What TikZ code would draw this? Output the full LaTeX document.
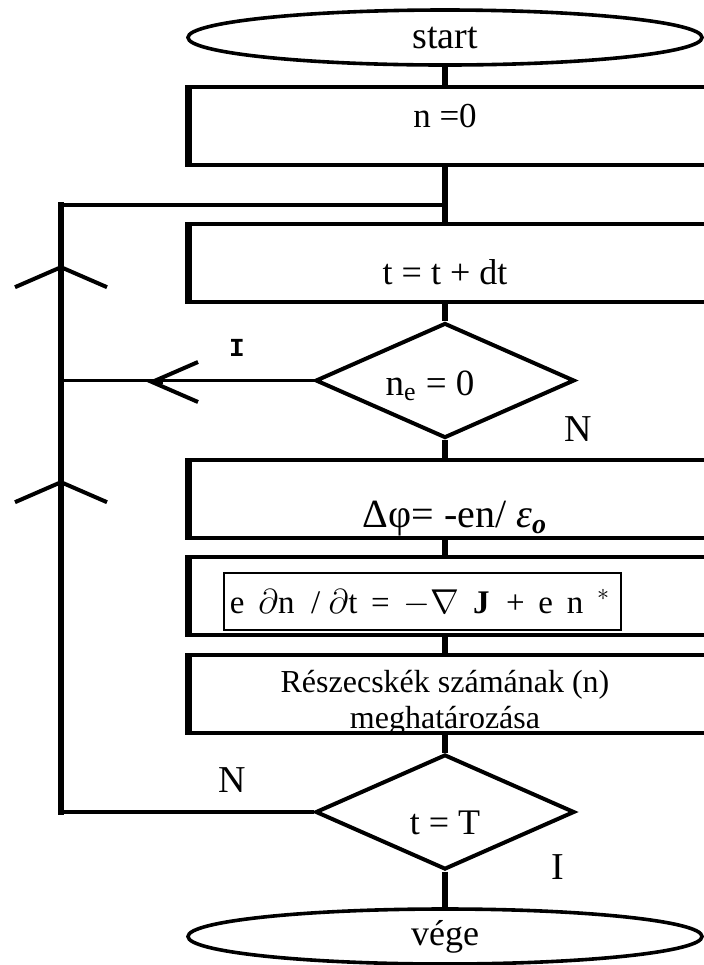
\documentclass[tikz,border=0pt]{standalone}
\usepackage{fontspec}
\setmainfont{Liberation Serif}
\newfontfamily\monofont{Liberation Mono}
\usetikzlibrary{shapes.geometric,arrows.meta}

\begin{document}
\begin{tikzpicture}[x=0.5pt,y=-0.5pt,
  term/.style={ellipse,draw,line width=1.8pt,minimum width=257pt,minimum height=27.5pt,inner sep=0pt},
  box/.style={draw,line width=1.8pt,minimum width=260pt,minimum height=39pt,inner sep=0pt,
    append after command={(\tikzlastnode.north west) edge[line width=3.2pt] (\tikzlastnode.south west)}},
  test/.style={diamond,draw,line width=2pt,minimum width=129.5pt,minimum height=57.5pt,inner sep=0pt},
  txt/.style={anchor=base,inner sep=0pt},
  lbl/.style={anchor=base,inner sep=0pt,font=\fontsize{19}{22}\selectfont},
  flow/.style={line width=3pt},
  back/.style={line width=1.6pt},
  rail/.style={line width=3pt,line cap=rect},
  barbup/.style={line width=3pt,-{Straight Barb[length=10pt,width=46pt,line width=2pt]}},
  barbleft/.style={line width=1.6pt,-{Straight Barb[length=23pt,width=20pt,line width=2pt]}}]
\useasboundingbox (0,0) rectangle (703,965);

% main column
\node[term,font=\fontsize{19}{22}\selectfont] (start) at (445,37.5) {start};
\node[box] (b1) at (450,126) {};
\node[txt,font=\fontsize{17.5}{20}\selectfont] (b1t) at (445,127) {n =0};
\node[box] (b2) at (450,263) {};
\node[txt,font=\fontsize{18}{21}\selectfont] (b2t) at (445,284) {t = t + dt};
\node[test] (d1) at (445,380.5) {};
\node[txt,font=\fontsize{18.5}{22}\selectfont] (d1t) at (430,395) {n\textsubscript{e} = 0};
\node[box] (b3) at (450,499) {};
\node[txt,font=\fontsize{20}{23}\selectfont] (b3t) at (455,527)
  {Δφ= -en/ \textit{ε}\textsubscript{\textbf{\textit{o}}}};
\node[box] (b4) at (450,596) {};
\node[draw,line width=0.6pt,minimum width=198.5pt,minimum height=28.5pt,inner sep=0pt] (eqbox) at (422.5,601.5) {};
\node[txt,font=\fontsize{16.5}{20}\selectfont] (eqt) at (420,613)
  {e \,$\partial$n \ / $\partial$t \,= \,$-\nabla$ \,\textbf{J} \ + \,e \,n \,$^{*}$};
\node[box] (b5) at (450,694) {};
\node[txt,font=\fontsize{16}{18}\selectfont] (b5t) at (445,692) {Részecskék számának (n)};
\node[txt,font=\fontsize{16}{18}\selectfont] (b5u) at (445,728) {meghatározása};
\node[test] (d2) at (445,812) {};
\node[txt,font=\fontsize{18}{21}\selectfont] (d2t) at (445,834) {t = T};
\node[term,font=\fontsize{18}{21}\selectfont] (stop) at (445,936.5) {vége};

\draw[flow] (start) -- (b1.north -| start);
\draw[flow] (b1.south -| start) -- (b2.north -| start);
\draw[flow] (b2.south -| start) -- (d1);
\draw[flow] (d1) -- (b3.north -| start);
\draw[flow] (b3.south -| start) -- (b4.north -| start);
\draw[flow] (b4.south -| start) -- (b5.north -| start);
\draw[flow] (b5.south -| start) -- (d2);
\draw[flow] (d2) -- (stop);

% loop back
\coordinate (top) at (61,205);
\coordinate (join) at (445,205);
\coordinate (bot) at (61,812);
\draw[back] (d2.west) -- (bot);
\draw[rail] (bot) -- (top);
\draw[back] (top) -- (join);
\draw[back] (d1.west) -- (d1.west -| top);

\coordinate (up1) at (61,265);
\coordinate (up2) at (61,480);
\coordinate (lt) at (147,382);
\draw[barbup] ([yshift=-8pt]up1) -- (up1);
\draw[barbup] ([yshift=-8pt]up2) -- (up2);
\draw[barbleft] ([xshift=8pt]lt) -- (lt);

% branch labels
\node[txt,font=\monofont\bfseries\fontsize{13}{15}\selectfont] (yes1) at (237,356) {I};
\node[lbl] (no1) at (578,441) {N};
\node[lbl] (no2) at (232,792) {N};
\node[lbl] (yes2) at (558,879) {I};
\end{tikzpicture}
\end{document}
